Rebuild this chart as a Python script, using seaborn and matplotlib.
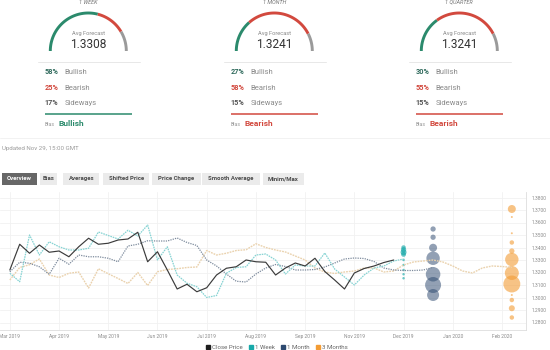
import numpy as np
import pandas as pd
import matplotlib
matplotlib.use("Agg")
import matplotlib.pyplot as plt
import matplotlib.dates as mdates
from matplotlib.lines import Line2D
from matplotlib.patches import Rectangle
import seaborn as sns

sns.set_theme(style="white")
plt.rcParams["font.family"] = ["Roboto", "DejaVu Sans"]

# ---------------- data ----------------
first_week = pd.Timestamp("2019-03-01")

close_price = [1.3220, 1.3426, 1.3354, 1.3420, 1.3362, 1.3372, 1.3326, 1.3406, 1.3474, 1.3426,
               1.3434, 1.3460, 1.3468, 1.3522, 1.3286, 1.3366, 1.3220, 1.3068, 1.3106, 1.3046,
               1.3078, 1.3180, 1.3234, 1.3246, 1.3300, 1.3286, 1.3282, 1.3180, 1.3236, 1.3276,
               1.3252, 1.3314, 1.3208, 1.3140, 1.3068, 1.3196, 1.3232, 1.3252, 1.3280, 1.3300]
week_1 = [1.3194, 1.3126, 1.3500, 1.3340, 1.3446, 1.3406, 1.3380, 1.3380, 1.3394, 1.3524,
          1.3496, 1.3468, 1.3538, 1.3492, 1.3580, 1.3300, 1.3406, 1.3180, 1.3114, 1.3086,
          1.3000, 1.3016, 1.3194, 1.3240, 1.3246, 1.3340, 1.3348, 1.3300, 1.3188, 1.3260,
          1.3252, 1.3252, 1.3356, 1.3228, 1.3164, 1.3100, 1.3180, 1.3236, 1.3252, 1.3292,
          1.3308]
month_1 = [1.3206, 1.3282, 1.3274, 1.3246, 1.3186, 1.3314, 1.3266, 1.3340, 1.3326, 1.3326,
           1.3314, 1.3286, 1.3412, 1.3426, 1.3454, 1.3452, 1.3452, 1.3476, 1.3440, 1.3416,
           1.3300, 1.3252, 1.3188, 1.3130, 1.3124, 1.3188, 1.3236, 1.3264, 1.3248, 1.3220,
           1.3220, 1.3224, 1.3244, 1.3276, 1.3308, 1.3316, 1.3312, 1.3288, 1.3236, 1.3220,
           1.3216, 1.3216, 1.3220, 1.3241]
months_3 = [1.3140, 1.3240, 1.3262, 1.3308, 1.3180, 1.3160, 1.3194, 1.3204, 1.3076, 1.3230,
            1.3190, 1.3152, 1.3112, 1.3200, 1.3096, 1.3206, 1.3224, 1.3230, 1.3240, 1.3244,
            1.3376, 1.3340, 1.3354, 1.3376, 1.3382, 1.3430, 1.3400, 1.3380, 1.3364, 1.3332,
            1.3300, 1.3236, 1.3204, 1.3192, 1.3204, 1.3212, 1.3236, 1.3236, 1.3204, 1.3212,
            1.3260, 1.3284, 1.3292, 1.3300, 1.3284, 1.3252, 1.3212, 1.3196, 1.3236, 1.3252,
            1.3248, 1.3241]

# individual forecasts per horizon: level and weight
fc_week_date = "2019-12-06"
fc_week_levels = [1.3400, 1.3382, 1.3362, 1.3345, 1.3300, 1.3260, 1.3220, 1.3186, 1.3154]
fc_week_weights = [5, 7, 9, 6, 1.5, 1.5, 1.5, 1.5, 1.5]
fc_month_date = "2019-12-27"
fc_month_levels = [1.3548, 1.3482, 1.3398, 1.3314, 1.3186, 1.3100, 1.3020]
fc_month_weights = [7, 7, 16, 45, 53, 64, 36]
fc_quarter_date = "2020-02-21"
fc_quarter_levels = [1.3708, 1.3644, 1.3514, 1.3440, 1.3372, 1.3304, 1.3196, 1.3108,
                     1.3020, 1.2980, 1.2914, 1.2840]
fc_quarter_weights = [16, 1, 1, 5, 7, 45, 49, 72, 1, 5, 9, 5]

horizons = ["1 WEEK", "1 MONTH", "1 QUARTER"]
avg_forecast = ["1.3308", "1.3241", "1.3241"]
bullish = [58, 27, 30]
bearish = [25, 58, 55]
sideways = [17, 15, 15]
bias = ["Bullish", "Bearish", "Bearish"]

tabs = ["Overview", "Bias", "Averages", "Shifted Price", "Price Change",
        "Smooth Average", "Minim/Max"]
updated_note = "Updated Nov 29, 15:00 GMT"
legend_labels = ["Close Price", "1 Week", "1 Month", "3 Months"]

# ---------------- colours ----------------
GREEN = "#2b8a6c"
RED = "#d2493e"
GREY = "#9a9a9a"
C_CLOSE = "#3b3b3b"
C_WEEK_LINE = "#86d3d3"
C_MONTH_LINE = "#7c8a9c"
C_QUARTER_LINE = "#ead2ae"
C_WEEK = "#18a9a9"
C_MONTH = "#2e4a70"
C_QUARTER = "#f39c34"

W, H = 550, 350
fig = plt.figure(figsize=(W / 100, H / 100), dpi=100)
fig.patch.set_facecolor("white")

# overlay in pixel units for the summary widgets and tab strip
over = fig.add_axes([0, 0, 1, 1])
over.set_xlim(0, W)
over.set_ylim(H, 0)
over.axis("off")

centers = [88.3, 274.3, 459.3]
R, CY = 38.0, 51.0
for i, cx in enumerate(centers):
    over.text(cx, 2.0, horizons[i], ha="center", va="center", fontsize=4.0,
              style="italic", color="#777777")
    bounds = np.cumsum([0, bullish[i], bearish[i], sideways[i]]) / 100.0
    for j, col in enumerate([GREEN, RED, GREY]):
        th = np.linspace(np.pi * (1 - bounds[j]), np.pi * (1 - bounds[j + 1]), 80)
        over.plot(cx + R * np.cos(th), CY - R * np.sin(th), color=col, lw=2.1,
                  solid_capstyle="butt")
    over.text(cx, 34.0, "Avg Forecast", ha="center", va="center", fontsize=4.1, color="#8a8a8a")
    over.text(cx, 44.0, avg_forecast[i], ha="center", va="center", fontsize=8.6, color="#333333")
    over.plot([cx - 50, cx + 52], [62, 62], color="#e8e8e8", lw=0.7)
    rows = [(bullish[i], "Bullish", "#2f6a5c"), (bearish[i], "Bearish", RED),
            (sideways[i], "Sideways", "#555555")]
    for k, (pct, lab, pc) in enumerate(rows):
        yy = [72.3, 88.0, 103.3][k]
        over.text(cx - 43.5, yy, f"{pct}%", ha="left", va="center", fontsize=5.2,
                  color=pc, fontweight="bold")
        over.text(cx - 23.5, yy, lab, ha="left", va="center", fontsize=5.5, color="#8a8a8a")
    bcol = GREEN if bias[i] == "Bullish" else RED
    over.plot([cx - 43.5, cx + 43.5], [113.7, 113.7], color=bcol, lw=1.1, solid_capstyle="butt")
    over.text(cx - 43.5, 124.7, "Bias", ha="left", va="center", fontsize=3.8, color="#999999")
    over.text(cx - 29.5, 124.0, bias[i], ha="left", va="center", fontsize=6.0,
              color=bcol, fontweight="bold")

over.plot([0, W], [137.5, 137.5], color="#f0f0f0", lw=0.6)
over.text(2.5, 148.3, updated_note, ha="left", va="center", fontsize=4.4, color="#9a9a9a")

tab_edges = [(1.7, 37.3), (40.0, 56.7), (63.3, 99.3), (103.3, 149.3), (151.7, 200.7),
             (202.3, 260.0), (262.7, 304.0)]
for t, (x0, x1) in zip(tabs, tab_edges):
    active = t == "Overview"
    over.add_patch(Rectangle((x0, 173.0), x1 - x0, 11.5,
                             facecolor="#676767" if active else "#ebebeb",
                             edgecolor="none"))
    over.text((x0 + x1) / 2, 178.8, t, ha="center", va="center", fontsize=4.3,
              fontweight="bold", color="white" if active else "#4a4a4a")

# ---------------- main chart ----------------
ax = fig.add_axes([0, 20 / H, 526 / W, 138 / H])
ax.patch.set_alpha(0)


def weekly(values):
    return pd.DataFrame({"date": pd.date_range(first_week, periods=len(values), freq="7D"),
                         "value": values})


line_specs = [
    (months_3, C_QUARTER_LINE, (0, (1.3, 0.7)), 1.0),
    (month_1, C_MONTH_LINE, (0, (1.0, 0.9)), 0.9),
    (week_1, C_WEEK_LINE, (0, (1.3, 0.7)), 0.9),
    (close_price, C_CLOSE, "-", 0.85),
]
for vals, col, ls, lw in line_specs:
    sns.lineplot(data=weekly(vals), x="date", y="value", color=col, linestyle=ls,
                 linewidth=lw, ax=ax)

bubbles = pd.concat([
    pd.DataFrame({"date": pd.Timestamp(fc_week_date), "level": fc_week_levels,
                  "weight": fc_week_weights, "horizon": "1 Week"}),
    pd.DataFrame({"date": pd.Timestamp(fc_month_date), "level": fc_month_levels,
                  "weight": fc_month_weights, "horizon": "1 Month"}),
    pd.DataFrame({"date": pd.Timestamp(fc_quarter_date), "level": fc_quarter_levels,
                  "weight": fc_quarter_weights, "horizon": "3 Months"}),
], ignore_index=True)
wmax = max(bubbles["weight"])
for hz, col, a in [("1 Week", C_WEEK, 0.65), ("1 Month", C_MONTH, 0.52),
                   ("3 Months", C_QUARTER, 0.6)]:
    sns.scatterplot(data=bubbles[bubbles["horizon"] == hz], x="date", y="level",
                    size="weight", sizes=(0, 2.07 * wmax), size_norm=(0, wmax),
                    color=col, alpha=a, edgecolor="none", legend=False, ax=ax)

ax.set_xlim(first_week - pd.Timedelta(days=7), first_week + pd.Timedelta(days=7 * 52.44))
ax.set_ylim(1.2740, 1.3844)
ax.set_xticks(pd.date_range(first_week, periods=11, freq="35D"))
ax.xaxis.set_major_formatter(mdates.DateFormatter("%b %Y"))
ax.set_yticks(np.round(np.arange(1.28, 1.3801, 0.01), 2))
ax.yaxis.set_major_formatter(matplotlib.ticker.FormatStrFormatter("%.4f"))
ax.yaxis.tick_right()
ax.tick_params(axis="both", length=0, labelsize=3.5, colors="#8a8a8a")
ax.tick_params(axis="y", pad=4)
ax.tick_params(axis="x", pad=3)
ax.set_xlabel("")
ax.set_ylabel("")
ax.grid(True, color="#f1f1f1", lw=0.6)
for side in ["left", "top"]:
    ax.spines[side].set_visible(False)
for side in ["right", "bottom"]:
    ax.spines[side].set_color("#dddddd")
    ax.spines[side].set_linewidth(0.6)

handles = [Line2D([], [], marker="s", linestyle="", color=c, markersize=3.3)
           for c in ["#1e1e1e", C_WEEK, C_MONTH, C_QUARTER]]
fig.legend(handles, legend_labels, loc="center", bbox_to_anchor=(277 / W, 2.8 / H), ncol=4,
           frameon=False, fontsize=4.4, handlelength=0.6, handletextpad=0.3,
           columnspacing=1.1, borderpad=0, labelcolor="#666666")

fig.savefig("out.png", dpi=100, facecolor="white")
